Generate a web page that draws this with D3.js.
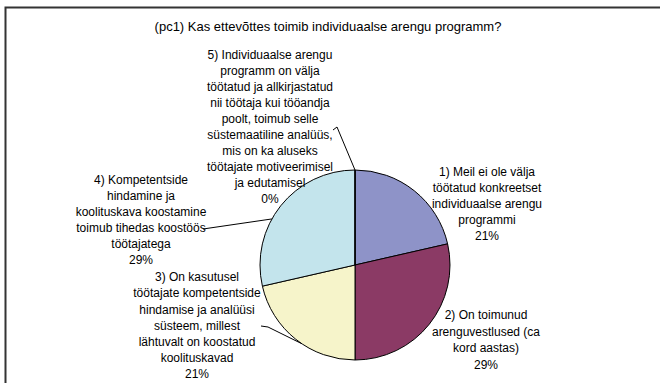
<!DOCTYPE html>
<html><head><meta charset="utf-8">
<script src="https://cdn.jsdelivr.net/npm/d3@7"></script>
<style>body{margin:0;background:#fff}svg{display:block}text{font-family:"Liberation Sans",Arial,sans-serif;fill:#000}</style>
</head><body>
<svg id="c" width="660" height="383"></svg>
<script>
const title = "(pc1) Kas ettevõttes toimib individuaalse arengu programm?";
const categories = [
  "1) Meil ei ole välja töötatud konkreetset individuaalse arengu programmi",
  "2) On toimunud arenguvestlused (ca kord aastas)",
  "3) On kasutusel töötajate kompetentside hindamise ja analüüsi süsteem, millest lähtuvalt on koostatud koolituskavad",
  "4) Kompetentside hindamine ja koolituskava koostamine toimub tihedas koostöös töötajatega",
  "5) Individuaalse arengu programm on välja töötatud ja allkirjastatud nii töötaja kui tööandja poolt, toimub selle süstemaatiline analüüs, mis on ka aluseks töötajate motiveerimisel ja edutamisel"
];
const values = [3, 4, 3, 4, 0];
const percentLabels = ["21%", "29%", "21%", "29%", "0%"];
const labelLines = [
  ["1) Meil ei ole välja", "töötatud konkreetset", "individuaalse arengu", "programmi"],
  ["2) On toimunud", "arenguvestlused (ca", "kord aastas)"],
  ["3) On kasutusel", "töötajate kompetentside", "hindamise ja analüüsi", "süsteem, millest", "lähtuvalt on koostatud", "koolituskavad"],
  ["4) Kompetentside", "hindamine ja", "koolituskava koostamine", "toimub tihedas koostöös", "töötajatega"],
  ["5) Individuaalse arengu", "programm on välja", "töötatud ja allkirjastatud", "nii töötaja kui tööandja", "poolt, toimub selle", "süstemaatiline analüüs,", "mis on ka aluseks", "töötajate motiveerimisel", "ja edutamisel"]
];
const colors = ["#8e93c8", "#8b3a65", "#f6f4ca", "#c3e4ec", "#ffffff"];

const svg = d3.select("#c");
// frame
svg.append("rect").attr("x", 5.5).attr("y", 7.5).attr("width", 700).attr("height", 400)
  .attr("fill", "none").attr("stroke", "#333").attr("stroke-width", 2);

svg.append("text").attr("x", 328).attr("y", 26).attr("dy", "0.35em")
  .attr("text-anchor", "middle").attr("font-size", 13).text(title);

const cx = 355, cy = 265, r = 95;
const pie = d3.pie().sort(null).value(d => d)(values);
const arc = d3.arc().innerRadius(0).outerRadius(r);
const g = svg.append("g").attr("transform", `translate(${cx},${cy})`);
g.selectAll("path").data(pie).join("path")
  .attr("d", arc).attr("fill", (d, i) => colors[i])
  .attr("stroke", "#000").attr("stroke-width", 1);

// label layout: center x, first line y, line height
const layout = [
  {x: 487, y: 172, lh: 16},
  {x: 486, y: 315, lh: 16.5},
  {x: 197, y: 277, lh: 16.2},
  {x: 141, y: 180, lh: 16},
  {x: 270, y: 55, lh: 16}
];
layout.forEach((L, i) => {
  const lines = labelLines[i].concat([percentLabels[i]]);
  const t = svg.append("text").attr("text-anchor", "middle").attr("font-size", 12);
  lines.forEach((s, k) => t.append("tspan").attr("x", L.x).attr("y", L.y + k * L.lh).attr("dy", "0.35em").text(s));
});

// leader lines
function edge(a) { return [cx + r * Math.sin(a), cy - r * Math.cos(a)]; }
const deg = Math.PI / 180;
const leaders = [
  [[261, 326], [268, 327], edge(214 * deg)],
  [[203, 229], edge(299 * deg)],
  [[333, 130], [337, 127], edge(pie[4].startAngle)]
];
leaders.forEach(pts => {
  svg.append("path").attr("d", d3.line()(pts)).attr("fill", "none").attr("stroke", "#000").attr("stroke-width", 1);
});
</script>
</body></html>
